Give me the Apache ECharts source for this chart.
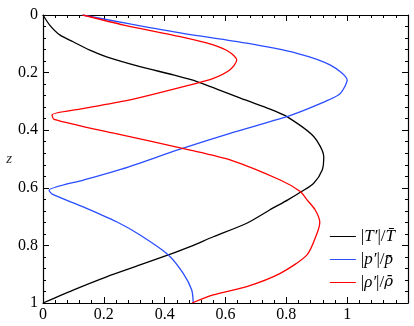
<!DOCTYPE html>
<html>
<head>
<meta charset="utf-8">
<script src="https://cdn.jsdelivr.net/npm/echarts@6/dist/echarts.min.js"></script>
<style>
  html, body { margin: 0; padding: 0; background: #fff; }
  #chart { width: 414px; height: 326px; }
</style>
</head>
<body>
<div id="chart"></div>
<script>
// profils : z (vertical, inversé) et amplitude normalisée
var zT = [0, 0.035, 0.069, 0.093, 0.122, 0.145, 0.179, 0.208, 0.231, 0.295, 0.327, 0.353, 0.422, 0.492, 0.538, 0.584, 0.613, 0.642, 0.677, 0.723, 0.770, 0.804, 0.833, 0.868, 0.909, 0.955, 1.0]
var tVals = [0, 0.022, 0.055, 0.099, 0.154, 0.209, 0.319, 0.428, 0.506, 0.665, 0.747, 0.802, 0.890, 0.923, 0.918, 0.890, 0.850, 0.805, 0.745, 0.670, 0.560, 0.484, 0.412, 0.319, 0.209, 0.099, 0]

var zP = [0, 0.032, 0.064, 0.098, 0.133, 0.174, 0.226, 0.272, 0.295, 0.327, 0.353, 0.411, 0.466, 0.538, 0.573, 0.609, 0.622, 0.666, 0.718, 0.764, 0.833, 0.897, 0.955, 1.0]
var pVals = [0.13, 0.29, 0.46, 0.67, 0.835, 0.945, 1.0, 0.978, 0.939, 0.868, 0.802, 0.615, 0.451, 0.25, 0.133, 0.02, 0.03, 0.132, 0.242, 0.319, 0.412, 0.461, 0.489, 0.494]

var zR = [0, 0.035, 0.075, 0.104, 0.13, 0.156, 0.19, 0.22, 0.243, 0.295, 0.327, 0.347, 0.362, 0.411, 0.469, 0.503, 0.573, 0.613, 0.642, 0.677, 0.72, 0.758, 0.833, 0.897, 0.943, 0.972, 1.0]
var rVals = [0.13, 0.266, 0.451, 0.56, 0.615, 0.637, 0.615, 0.56, 0.484, 0.286, 0.121, 0.03, 0.036, 0.236, 0.484, 0.615, 0.78, 0.846, 0.868, 0.895, 0.91, 0.901, 0.868, 0.78, 0.67, 0.56, 0.49]

var xTicks = ['0', '0.2', '0.4', '0.6', '0.8', '1']
var yTicks = ['0', '0.2', '0.4', '0.6', '0.8', '1']

var serif = 'Liberation Serif, Times New Roman, serif'

function pairs(zs, xs) {
  var out = []
  for (var i = 0; i < zs.length; i++) {
    out.push([xs[i], zs[i]])
  }
  return out
}

function tickFmt(list) {
  return function (v) {
    var k = Math.round(v / 0.2)
    return list[k] !== undefined ? list[k] : ''
  }
}

var frameTick = { show: true, inside: true, length: 6, lineStyle: { color: '#000', width: 1 } }
var frameMinor = { show: true, splitNumber: 5, length: 3, lineStyle: { color: '#000', width: 1 } }
var frameLine = { show: true, onZero: false, lineStyle: { color: '#000', width: 1.2 } }

var myChart = echarts.init(document.getElementById('chart'))

var legendNames = {
  T: '|{i|T′}|/{i|T\u0304}',
  p: '|{i|p′}|/{i|p\u0304}',
  rho: '|{i|ρ′}|/{g|ρ\u0304}'
}

myChart.setOption({
  animation: false,
  backgroundColor: '#fff',
  grid: { left: 43, right: 6, top: 15, bottom: 23 },
  legend: {
    orient: 'vertical',
    right: 14,
    bottom: 30,
    itemWidth: 26,
    itemHeight: 10,
    itemGap: 6,
    icon: 'path://M0,5 L26,5 L26,6 L0,6 Z',
    data: ['T', 'p', 'rho'],
    formatter: function (name) { return legendNames[name] },
    textStyle: {
      fontFamily: serif,
      fontSize: 17,
      color: '#000',
      rich: {
        i: { fontFamily: serif, fontStyle: 'italic', fontSize: 17, color: '#000' },
        g: { fontFamily: 'DejaVu Serif', fontStyle: 'italic', fontSize: 15, color: '#000' }
      }
    }
  },
  xAxis: [
    {
      type: 'value', min: 0, max: 1.2, interval: 0.2, position: 'bottom',
      axisLine: frameLine, axisTick: frameTick, minorTick: frameMinor, splitLine: { show: false },
      axisLabel: {
        fontFamily: serif, fontSize: 16, color: '#000', margin: 4,
        formatter: tickFmt(xTicks)
      }
    },
    {
      type: 'value', min: 0, max: 1.2, interval: 0.2, position: 'top',
      axisLine: frameLine, axisTick: frameTick, minorTick: frameMinor, splitLine: { show: false },
      axisLabel: { show: false }
    }
  ],
  yAxis: [
    {
      type: 'value', min: 0, max: 1, interval: 0.2, inverse: true, position: 'left',
      name: 'z', nameLocation: 'middle', nameGap: 30, nameRotate: 0,
      nameTextStyle: { fontFamily: serif, fontStyle: 'italic', fontSize: 15, color: '#333' },
      axisLine: frameLine, axisTick: frameTick, minorTick: frameMinor, splitLine: { show: false },
      axisLabel: {
        fontFamily: serif, fontSize: 16, color: '#000', margin: 5,
        formatter: tickFmt(yTicks)
      }
    },
    {
      type: 'value', min: 0, max: 1, interval: 0.2, inverse: true, position: 'right',
      axisLine: frameLine, axisTick: frameTick, minorTick: frameMinor, splitLine: { show: false },
      axisLabel: { show: false }
    }
  ],
  series: [
    {
      name: 'T', type: 'line', data: pairs(zT, tVals), showSymbol: false,
      smooth: 0.25,
      lineStyle: { color: '#000', width: 1.3 }, itemStyle: { color: '#000' }
    },
    {
      name: 'p', type: 'line', data: pairs(zP, pVals), showSymbol: false,
      smooth: 0.25,
      lineStyle: { color: '#2a4dff', width: 1.3 }, itemStyle: { color: '#2a4dff' }
    },
    {
      name: 'rho', type: 'line', data: pairs(zR, rVals), showSymbol: false,
      smooth: 0.25,
      lineStyle: { color: '#ff0000', width: 1.3 }, itemStyle: { color: '#ff0000' }
    }
  ]
})
</script>
</body>
</html>
